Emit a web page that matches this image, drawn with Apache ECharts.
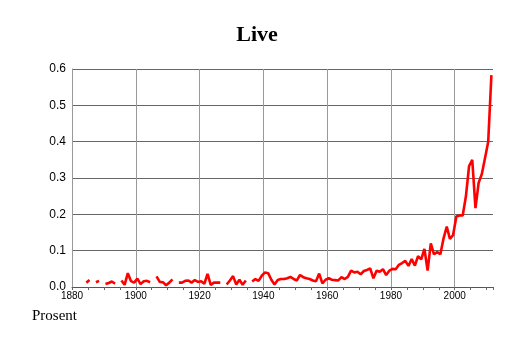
<!DOCTYPE html>
<html>
<head>
<meta charset="utf-8">
<script src="https://cdn.jsdelivr.net/npm/echarts@6/dist/echarts.min.js"></script>
<style>html,body{margin:0;padding:0;background:#fff;}#chart{width:514px;height:343px;}</style>
</head>
<body>
<div id="chart"></div>
<script>
const titleText = "Live";
const yAxisName = "Prosent";
const firstYear = 1884;
const values = [
  0.012, 0.019, null, 0.013, 0.017, null, 0.008, 0.011, 0.015, 0.009,   // 1884-1893
  null, 0.018, 0.006, 0.038, 0.016, 0.012, 0.023, 0.008, 0.016, 0.017,   // 1894-1903
  0.013, null, 0.029, 0.014, 0.013, 0.005, 0.012, 0.021, null, 0.012,    // 1904-1913
  0.012, 0.017, 0.018, 0.012, 0.019, 0.014, 0.016, 0.009, 0.036, 0.006,  // 1914-1923
  0.012, 0.012, 0.012, null, 0.007, 0.018, 0.030, 0.007, 0.020, 0.006,   // 1924-1933
  0.018, null, 0.015, 0.022, 0.017, 0.031, 0.040, 0.038, 0.020, 0.007,   // 1934-1943
  0.019, 0.022, 0.022, 0.024, 0.028, 0.022, 0.018, 0.033, 0.027, 0.024,  // 1944-1953
  0.022, 0.018, 0.016, 0.037, 0.010, 0.020, 0.024, 0.020, 0.019, 0.018,  // 1954-1963
  0.027, 0.022, 0.028, 0.045, 0.040, 0.042, 0.035, 0.044, 0.047, 0.051,  // 1964-1973
  0.024, 0.045, 0.042, 0.049, 0.033, 0.045, 0.050, 0.049, 0.061, 0.066,  // 1974-1983
  0.072, 0.058, 0.077, 0.059, 0.085, 0.076, 0.105, 0.045, 0.120, 0.090,  // 1984-1993
  0.096, 0.090, 0.134, 0.166, 0.132, 0.143, 0.194, 0.197, 0.197, 0.249,  // 1994-2003
  0.333, 0.350, 0.217, 0.287, 0.311, 0.355, 0.400, 0.583                 // 2004-2011
];
const years = values.map((v, i) => firstYear + i);
const xTickLabels = [1880, 1900, 1920, 1940, 1960, 1980, 2000];
const yTickLabels = [0.0, 0.1, 0.2, 0.3, 0.4, 0.5, 0.6];

const seriesData = years.map((y, i) => [y + 0.5, values[i] === null ? '-' : values[i]]);

const chart = echarts.init(document.getElementById('chart'), null, {renderer: 'canvas'});
const xMin = 1880, xMax = 2012;
chart.setOption({
  animation: false,
  backgroundColor: '#ffffff',
  title: {
    text: titleText,
    left: 'center',
    top: 19,
    textStyle: {fontFamily: 'Liberation Serif', fontWeight: 'bold', fontSize: 22, color: '#000'}
  },
  graphic: [{
    type: 'text',
    left: 32,
    top: 309,
    style: {text: yAxisName, font: '15px "Liberation Serif"', fill: '#000'}
  }],
  grid: {left: 72, right: 21, top: 69, bottom: 56, containLabel: false},
  xAxis: [{
    type: 'value',
    min: xMin, max: xMax, interval: 20,
    axisLine: {show: true, lineStyle: {color: '#555', width: 1}},
    axisTick: {show: false},
    axisLabel: {
      show: true, margin: 4, fontFamily: 'Liberation Sans', fontSize: 10, color: '#000',
      showMaxLabel: false,
      formatter: v => xTickLabels.indexOf(v) >= 0 ? String(v) : ''
    },
    splitLine: {show: true, showMaxLine: false, lineStyle: {color: '#999', width: 1}}
  }, {
    type: 'value',
    position: 'bottom',
    min: xMin, max: xMax, interval: 5,
    axisLine: {show: false},
    axisTick: {show: true, length: 3, lineStyle: {color: '#666'}},
    axisLabel: {show: false},
    splitLine: {show: false}
  }],
  yAxis: {
    type: 'value',
    min: 0, max: 0.6, interval: 0.1,
    axisLine: {show: true, lineStyle: {color: '#999', width: 1}},
    axisTick: {show: false},
    axisLabel: {
      margin: 6, fontFamily: 'Liberation Sans', fontSize: 12, color: '#000',
      formatter: v => yTickLabels.find(t => Math.abs(t - v) < 1e-9).toFixed(1)
    },
    splitLine: {show: true, lineStyle: {color: '#666', width: 1}}
  },
  series: [{
    type: 'line',
    xAxisIndex: 0,
    data: seriesData,
    showSymbol: false,
    connectNulls: false,
    lineStyle: {color: '#ff0000', width: 2.6},
    itemStyle: {color: '#ff0000'}
  }]
});
</script>
</body>
</html>
